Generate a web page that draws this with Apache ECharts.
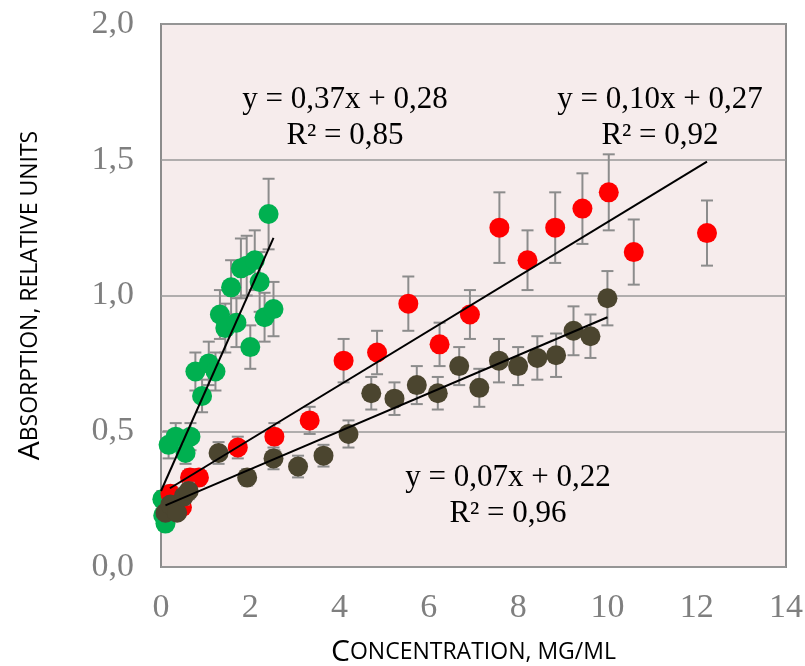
<!DOCTYPE html>
<html><head><meta charset="utf-8">
<script src="https://cdn.jsdelivr.net/npm/echarts@6/dist/echarts.min.js"></script>
<style>html,body{margin:0;padding:0;background:#fff}#c{width:805px;height:666px}</style>
</head><body><div id="c"></div>
<script>
// Green series
const greenX = [0.03, 0.05, 0.10, 0.17, 0.33, 0.55, 0.66, 0.77, 0.92, 1.07, 1.22, 1.32, 1.44, 1.57, 1.69, 1.79, 1.92, 2.00, 2.10, 2.21, 2.32, 2.41, 2.52];
const greenY = [0.25, 0.19, 0.16, 0.45, 0.48, 0.42, 0.48, 0.72, 0.63, 0.75, 0.72, 0.93, 0.88, 1.03, 0.90, 1.10, 1.11, 0.81, 1.13, 1.05, 0.92, 1.30, 0.95];
const greenErr = [0.03, 0.02, 0.02, 0.05, 0.05, 0.04, 0.05, 0.07, 0.06, 0.08, 0.07, 0.09, 0.09, 0.10, 0.09, 0.11, 0.11, 0.08, 0.11, 0.11, 0.09, 0.13, 0.10];
// Red series
const redX = [0.21, 0.47, 0.65, 0.85, 1.72, 2.54, 3.33, 4.09, 4.84, 5.54, 6.24, 6.92, 7.58, 8.21, 8.83, 9.44, 10.03, 10.59, 12.23];
const redY = [0.27, 0.22, 0.33, 0.33, 0.44, 0.48, 0.54, 0.76, 0.79, 0.97, 0.82, 0.93, 1.25, 1.13, 1.25, 1.32, 1.38, 1.16, 1.23];
const redErr = [0.03, 0.02, 0.03, 0.03, 0.04, 0.05, 0.05, 0.08, 0.08, 0.10, 0.08, 0.09, 0.13, 0.11, 0.13, 0.13, 0.14, 0.12, 0.12];
// Dark series
const darkX = [0.10, 0.21, 0.36, 0.51, 0.62, 1.29, 1.93, 2.52, 3.07, 3.64, 4.20, 4.71, 5.23, 5.73, 6.20, 6.68, 7.13, 7.57, 8.00, 8.43, 8.85, 9.24, 9.62, 10.00];
const darkY = [0.20, 0.23, 0.20, 0.26, 0.28, 0.42, 0.33, 0.40, 0.37, 0.41, 0.49, 0.64, 0.62, 0.67, 0.64, 0.74, 0.66, 0.76, 0.74, 0.77, 0.78, 0.87, 0.85, 0.99];
const darkErr = [0.02, 0.02, 0.02, 0.03, 0.03, 0.04, 0.03, 0.04, 0.04, 0.04, 0.05, 0.06, 0.06, 0.07, 0.06, 0.07, 0.07, 0.08, 0.07, 0.08, 0.08, 0.09, 0.08, 0.10];
// Trend lines: [slope, intercept, xStart, xEnd]
const greenTrend = [0.37, 0.28, 0.0, 2.52];
const redTrend = [0.10, 0.27, 0.2, 12.23];
const darkTrend = [0.07, 0.22, 0.1, 10.0];
// Axis ticks
const xTicks = [0, 2, 4, 6, 8, 10, 12, 14];
const yTicks = [0.0, 0.5, 1.0, 1.5, 2.0];

const zip = (xs, ys, es) => xs.map((x, i) => es ? [x, ys[i], es[i]] : [x, ys[i]]);
const trendData = t => [[t[2], t[0]*t[2]+t[1]], [t[3], t[0]*t[3]+t[1]]];

function errSeries(data, z) {
  return {
    type: 'custom', data: data, z: z, silent: true,
    renderItem: function (params, api) {
      const x = api.value(0), y = api.value(1), e = api.value(2);
      const top = api.coord([x, y + e]);
      const bot = api.coord([x, y - e]);
      const hw = 6;
      const style = { stroke: '#8c8c8c', lineWidth: 2 };
      return { type: 'group', children: [
        { type: 'line', shape: { x1: top[0], y1: top[1], x2: bot[0], y2: bot[1] }, style: style },
        { type: 'line', shape: { x1: top[0]-hw, y1: top[1], x2: top[0]+hw, y2: top[1] }, style: style },
        { type: 'line', shape: { x1: bot[0]-hw, y1: bot[1], x2: bot[0]+hw, y2: bot[1] }, style: style }
      ]};
    }
  };
}
function scat(xs, ys, color, z) {
  return { type: 'scatter', data: zip(xs, ys), symbolSize: 20, z: z,
    itemStyle: { color: color, opacity: 1 }, silent: true };
}
function trend(t) {
  return { type: 'line', data: trendData(t), symbol: 'none', z: 10, silent: true,
    lineStyle: { color: '#000', width: 2 } };
}

const chart = echarts.init(document.getElementById('c'), null, { renderer: 'canvas' });
const fmtY = v => v.toFixed(1).replace('.', ',');
const annFont = { fontFamily: 'Liberation Serif', fontSize: 31, fill: '#000' };
function ann(x, y, text) {
  return { type: 'text', x: x, y: y, style: Object.assign({ text: text, align: 'center', verticalAlign: 'middle' }, annFont), z: 100 };
}
chart.setOption({
  animation: false,
  backgroundColor: '#fff',
  grid: { left: 161, top: 24, width: 625, height: 543, outerBoundsMode: 'none', containLabel: false,
    show: true, backgroundColor: '#f6ecec', borderColor: '#8c8c8c', borderWidth: 2 },
  xAxis: {
    type: 'value', min: 0, max: 14, interval: 2,
    axisLine: { show: false }, axisTick: { show: false }, splitLine: { show: false },
    axisLabel: { color: '#7f7f7f', fontFamily: 'Liberation Serif', fontSize: 34, margin: 24,
      formatter: v => xTicks.includes(v) ? String(v) : '' },
    name: '{a|C}{b|ONCENTRATION, MG/ML}', nameLocation: 'middle', nameGap: 70,
    nameTextStyle: { rich: {
      a: { fontFamily: 'Open Sans', fontSize: 30, color: '#000' },
      b: { fontFamily: 'Open Sans', fontSize: 23, color: '#000' } } }
  },
  yAxis: {
    type: 'value', min: 0, max: 2, interval: 0.5,
    axisLine: { show: false }, axisTick: { show: false },
    splitLine: { show: true, lineStyle: { color: '#999', width: 1.5 } },
    axisLabel: { color: '#7f7f7f', fontFamily: 'Liberation Serif', fontSize: 34, margin: 27,
      formatter: v => yTicks.some(t => Math.abs(t - v) < 1e-9) ? fmtY(v) : '' },
    name: '{a|A}{b|BSORPTION, RELATIVE UNITS}', nameLocation: 'middle', nameGap: 116, nameRotate: 90,
    nameTextStyle: { rich: {
      a: { fontFamily: 'Open Sans', fontSize: 30, color: '#000' },
      b: { fontFamily: 'Open Sans', fontSize: 23, color: '#000' } } }
  },
  graphic: [
    ann(345, 100, 'y = 0,37x + 0,28'),
    ann(345, 136, 'R² = 0,85'),
    ann(660, 100, 'y = 0,10x + 0,27'),
    ann(660, 136, 'R² = 0,92'),
    ann(508, 478, 'y = 0,07x + 0,22'),
    ann(508, 514, 'R² = 0,96')
  ],
  series: [
    errSeries(zip(greenX, greenY, greenErr), 2),
    scat(greenX, greenY, '#00b050', 3),
    errSeries(zip(redX, redY, redErr), 4),
    scat(redX, redY, '#ff0000', 5),
    errSeries(zip(darkX, darkY, darkErr), 6),
    scat(darkX, darkY, '#4b452f', 7),
    trend(greenTrend), trend(redTrend), trend(darkTrend)
  ]
});
</script></body></html>
